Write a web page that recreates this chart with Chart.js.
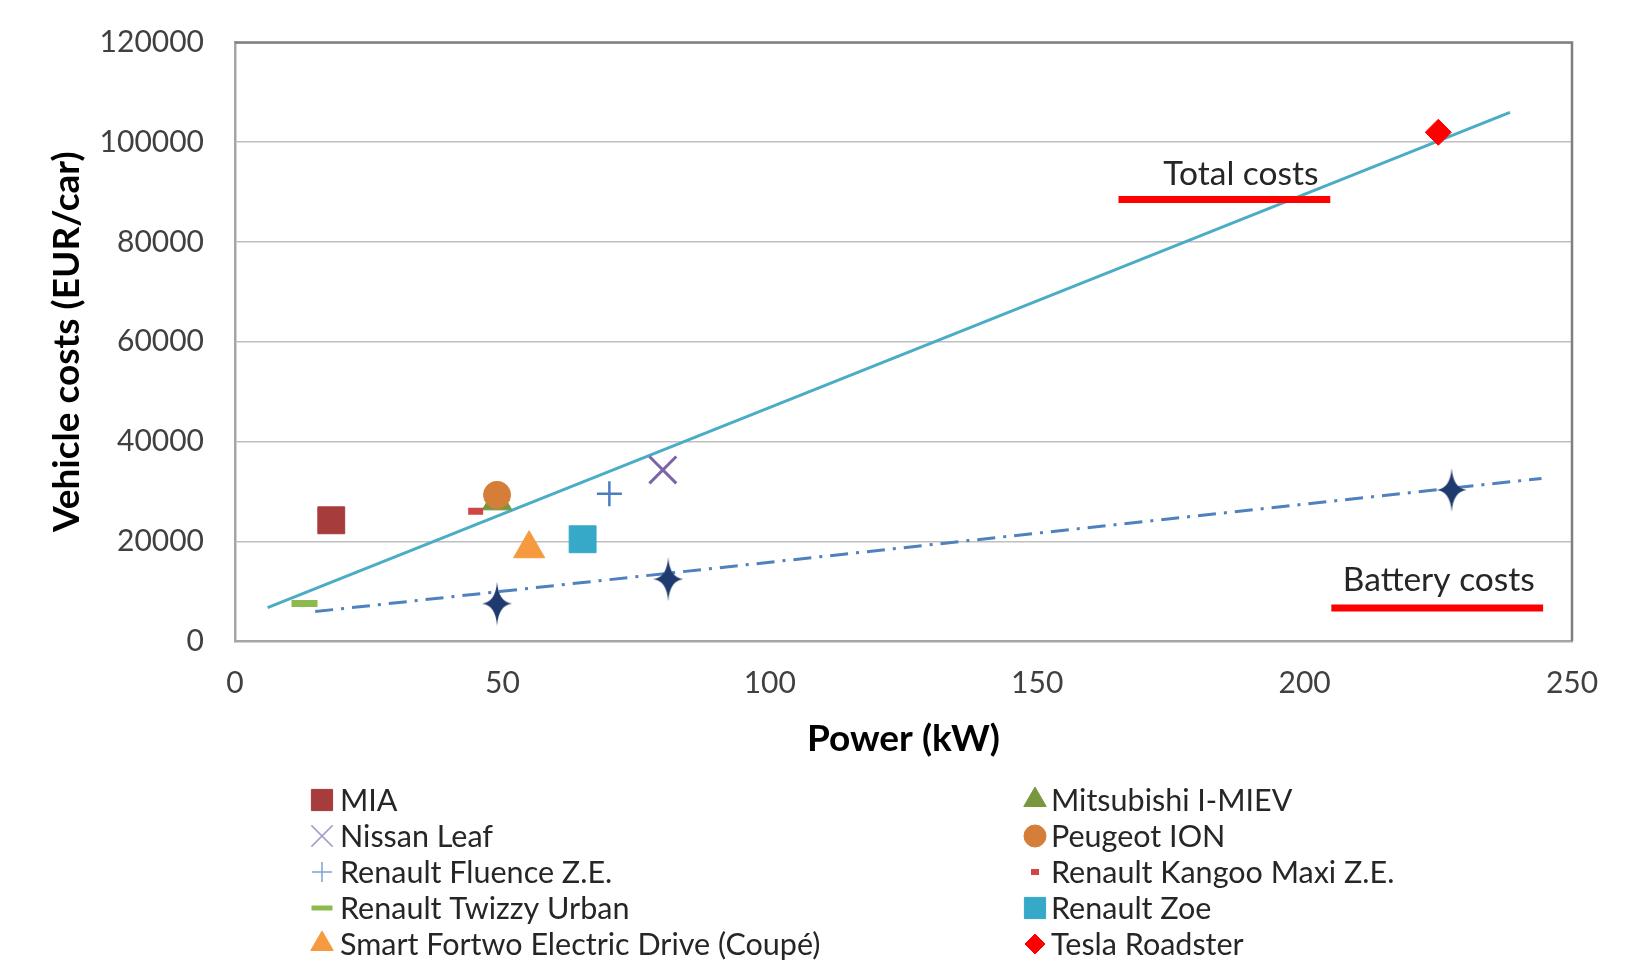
<!DOCTYPE html>
<html>
<head>
<meta charset="utf-8">
<script src="https://cdn.jsdelivr.net/npm/chart.js@4.4.0/dist/chart.umd.min.js"></script>
<style>
  html, body { margin: 0; padding: 0; background: #fff; }
  canvas { display: block; }
</style>
</head>
<body>
<canvas id="costChart" width="1632" height="962"></canvas>
<script>
// values
const vehicles = ['MIA', 'Mitsubishi I-MIEV', 'Nissan Leaf', 'Peugeot ION', 'Renault Fluence Z.E.',
  'Renault Kangoo Maxi Z.E.', 'Renault Twizzy Urban', 'Renault Zoe', 'Smart Fortwo Electric Drive (Coupé)', 'Tesla Roadster'];
const powerKW = [18, 49, 80, 49, 70, 45, 13, 65, 55, 225];
const totalCost = [24200, 28000, 34300, 29300, 29500, 26000, 7500, 20400, 18500, 102000];

const batteryPower = [49, 81, 227.5];
const batteryCost = [7500, 12400, 30300];

// trend lines (end points as seen in the picture)
const totalTrendX = [6.1, 238.4];
const totalTrendY = [6700, 106000];
const batteryTrendX = [15, 244.3];
const batteryTrendY = [5900, 32600];

const xTicks = [0, 50, 100, 150, 200, 250];
const yTicks = [0, 20000, 40000, 60000, 80000, 100000, 120000];

// labels with red underline
const noteTexts = ['Total costs', 'Battery costs'];
const noteX = [188.1, 225.1];
const noteY = [93500, 12200];
const noteLineFrom = [165.2, 205.0];
const noteLineTo = [204.8, 244.6];
const noteLineY = [88500, 6600];

// marker look for each vehicle (same order as vehicles)
const markerStyles = [
  { style: 'rect', color: '#A63C3B', r: 19, bw: 1, lr: 15, lbw: 1 },
  { style: 'triangle', color: '#77983C', r: 17, bw: 1, lr: 13, lbw: 1 },
  { style: 'crossRot', color: '#7D64A6', r: 19, bw: 3, lr: 15, lbw: 1.5, lcolor: '#A79BC9' },
  { style: 'circle', color: '#D47E3A', r: 13.5, bw: 1, lr: 11, lbw: 1 },
  { style: 'cross', color: '#4A7EC4', r: 12.5, bw: 2.5, lr: 10, lbw: 1.5, lcolor: '#7FA3D6' },
  { style: 'line', color: '#D04545', r: 7.5, bw: 7, lr: 4, lbw: 6 },
  { style: 'line', color: '#8DBA4E', r: 13, bw: 7, lr: 10.5, lbw: 5 },
  { style: 'rect', color: '#36A8C8', r: 19, bw: 1, lr: 15, lbw: 1 },
  { style: 'triangle', color: '#F59A3E', r: 18, bw: 1, lr: 13, lbw: 1 },
  { style: 'rectRot', color: '#FF0000', r: 13, bw: 1, lr: 10, lbw: 1 }
];
// draw order: Peugeot above Mitsubishi
const markerOrder = [2, 4, 2, 1, 2, 2, 2, 2, 2, 2];

function makeStar() {
  const c = document.createElement('canvas');
  c.width = 30; c.height = 44;
  const g = c.getContext('2d');
  g.fillStyle = '#1F3A6E';
  g.beginPath();
  g.moveTo(15, 0);
  g.quadraticCurveTo(16.5, 20.5, 30, 22);
  g.quadraticCurveTo(16.5, 23.5, 15, 44);
  g.quadraticCurveTo(13.5, 23.5, 0, 22);
  g.quadraticCurveTo(13.5, 20.5, 15, 0);
  g.fill();
  return c;
}

const datasets = vehicles.map((name, i) => {
  const m = markerStyles[i];
  return {
    label: name,
    data: [{ x: powerKW[i], y: totalCost[i] }],
    pointStyle: m.style,
    pointRadius: m.r,
    pointBorderWidth: m.bw,
    backgroundColor: m.color,
    borderColor: m.color,
    order: markerOrder[i]
  };
});

datasets.push({
  label: 'Battery costs',
  data: batteryPower.map((p, i) => ({ x: p, y: batteryCost[i] })),
  pointStyle: makeStar(),
  pointRadius: 20,
  order: 0
});
datasets.push({
  label: 'Total costs trend',
  data: totalTrendX.map((p, i) => ({ x: p, y: totalTrendY[i] })),
  showLine: true,
  pointRadius: 0,
  borderColor: '#4BACC6',
  borderWidth: 3,
  order: 10
});
datasets.push({
  label: 'Battery costs trend',
  data: batteryTrendX.map((p, i) => ({ x: p, y: batteryTrendY[i] })),
  showLine: true,
  pointRadius: 0,
  borderColor: '#4F81BD',
  borderWidth: 3,
  borderDash: [18, 8, 3, 8],
  order: 10
});

// top and right frame of the plot area
const frame = {
  id: 'frame',
  afterDatasetsDraw(chart) {
    const { ctx, chartArea: a } = chart;
    ctx.save();
    ctx.strokeStyle = '#7F7F7F';
    ctx.lineWidth = 2.5;
    ctx.beginPath();
    ctx.moveTo(a.left, a.top);
    ctx.lineTo(a.right, a.top);
    ctx.lineTo(a.right, a.bottom);
    ctx.stroke();
    ctx.restore();
  }
};

const notes = {
  id: 'notes',
  afterDraw(chart) {
    const { ctx, scales: { x, y } } = chart;
    ctx.save();
    ctx.font = '33.5px Lato';
    ctx.fillStyle = '#262626';
    ctx.textAlign = 'center';
    ctx.textBaseline = 'middle';
    noteTexts.forEach((t, i) => {
      ctx.fillText(t, x.getPixelForValue(noteX[i]), y.getPixelForValue(noteY[i]));
      ctx.strokeStyle = '#FF0000';
      ctx.lineWidth = 7;
      ctx.beginPath();
      ctx.moveTo(x.getPixelForValue(noteLineFrom[i]), y.getPixelForValue(noteLineY[i]));
      ctx.lineTo(x.getPixelForValue(noteLineTo[i]), y.getPixelForValue(noteLineY[i]));
      ctx.stroke();
    });
    ctx.restore();
  }
};

// legend in two columns, row by row like the original
const twoColLegend = {
  id: 'twoColLegend',
  afterDraw(chart) {
    const ctx = chart.ctx;
    ctx.save();
    ctx.font = '30.5px Lato';
    ctx.textBaseline = 'middle';
    ctx.textAlign = 'left';
    vehicles.forEach((name, i) => {
      const m = markerStyles[i];
      const col = i % 2;
      const row = Math.floor(i / 2);
      const mx = col === 0 ? 322 : 1035;
      const my = 800 + row * 36;
      ctx.fillStyle = m.lcolor || m.color;
      ctx.strokeStyle = m.lcolor || m.color;
      ctx.lineWidth = m.lbw;
      Chart.helpers.drawPoint(ctx, { pointStyle: m.style, radius: m.lr, borderWidth: m.lbw, rotation: 0 }, mx, my);
      ctx.fillStyle = '#262626';
      ctx.fillText(name, col === 0 ? 340 : 1051, my + 1);
    });
    ctx.restore();
  }
};

function drawChart() {
  const ctx = document.getElementById('costChart').getContext('2d');
  new Chart(ctx, {
    type: 'scatter',
    data: { datasets: datasets },
    plugins: [frame, notes, twoColLegend],
    options: {
      responsive: false,
      animation: false,
      devicePixelRatio: 1,
      layout: { padding: { top: 42.5, right: 60, bottom: 201, left: 0 } },
      plugins: {
        legend: { display: false },
        tooltip: { enabled: false }
      },
      scales: {
        x: {
          type: 'linear',
          min: 0,
          max: 250,
          afterBuildTicks: s => { s.ticks = xTicks.map(v => ({ value: v })); },
          afterFit: s => { s.height = 120; s.paddingLeft = 0; s.paddingRight = 0; },
          grid: { display: false, drawTicks: false },
          border: { color: '#A6A6A6', width: 2.5 },
          ticks: { padding: 24, color: '#404040', font: { family: 'Lato', size: 30 }, maxRotation: 0,
            callback: v => String(v) },
          title: {
            display: true,
            text: 'Power (kW)',
            color: '#000',
            font: { family: 'Lato', size: 37, weight: 'bold', lineHeight: 1 },
            padding: { top: 0, bottom: 3 }
          }
        },
        y: {
          type: 'linear',
          min: 0,
          max: 120000,
          afterBuildTicks: s => { s.ticks = yTicks.map(v => ({ value: v })); },
          afterFit: s => { s.width = 235; s.paddingTop = 0; s.paddingBottom = 0; },
          grid: { color: '#BFBFBF', lineWidth: 1.5, drawTicks: false },
          border: { color: '#A6A6A6', width: 2.5 },
          ticks: { padding: 31, color: '#404040', font: { family: 'Lato', size: 30 },
            callback: v => String(v) },
          title: {
            display: true,
            text: 'Vehicle costs (EUR/car)',
            color: '#000',
            font: { family: 'Lato', size: 37, weight: 'bold', lineHeight: 1 },
            padding: { top: 49, bottom: 0 }
          }
        }
      }
    }
  });
}

if (document.fonts && document.fonts.load) {
  Promise.all([document.fonts.load('30px Lato'), document.fonts.load('bold 37px Lato')])
    .then(drawChart, drawChart);
} else {
  drawChart();
}
</script>
</body>
</html>
